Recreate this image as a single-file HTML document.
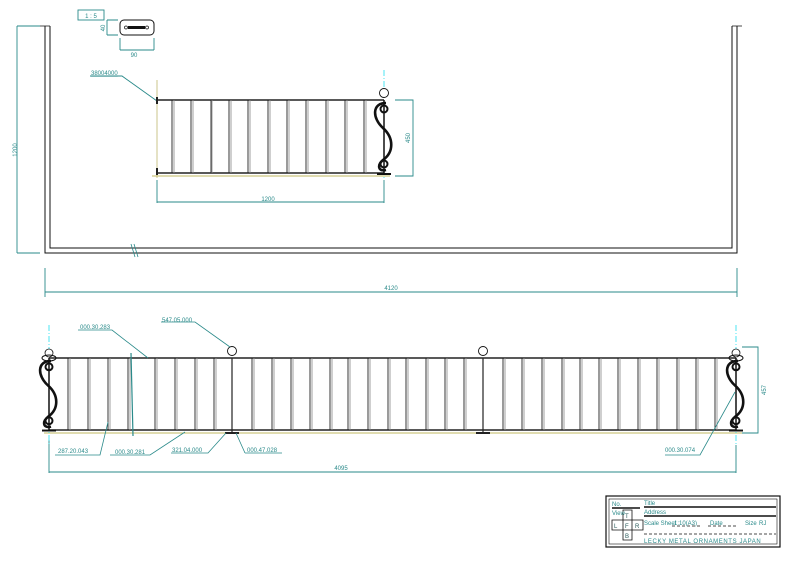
<!DOCTYPE html>
<html><head><meta charset="utf-8"><style>
html,body{margin:0;padding:0;background:#fff;}
svg{display:block;}
text{font-family:"Liberation Sans",sans-serif;font-size:6px;fill:#2a8a8a;}
</style></head><body>
<svg width="794" height="561" viewBox="0 0 794 561" xmlns="http://www.w3.org/2000/svg">
<defs>
<g id="scroll" fill="none" stroke="#111">
<path d="M3,3 C-11,3 -11,18 0,28 C11,38 11,52 0,60 C-6,65 -5,72 3,70" stroke-width="2.6"/>
<circle cx="1" cy="9" r="3.5" stroke-width="2"/>
<circle cx="1" cy="64" r="3.5" stroke-width="2"/>
<line x1="1" y1="0" x2="1" y2="74" stroke-width="1.5"/>
<line x1="-6" y1="74" x2="8" y2="74" stroke-width="2"/>
</g>
</defs>

<!-- wall -->
<g fill="none" stroke="#111" stroke-width="1">
<path d="M45,26 V253 H737 V26"/>
<path d="M50,26 V248 H732 V26"/>
<path d="M40,26 H50 M732,26 H742" stroke-width="0.8"/>
</g>
<line x1="131" y1="244" x2="135" y2="257" stroke="#2a8a8a" stroke-width="0.8"/>
<line x1="134" y1="244" x2="138" y2="257" stroke="#2a8a8a" stroke-width="0.8"/>

<!-- dims teal -->
<g stroke="#2a8a8a" stroke-width="0.9" fill="none">
<path d="M17,26 V253 M17,26 H40 M17,253 H40"/>
<path d="M45,268 V297 M737,268 V297 M45,292 H737"/>
<rect x="78" y="10" width="26" height="10"/>
<path d="M107,20 V35 M107,20 H118 M107,35 H118"/>
<path d="M120,38 V50 M154,38 V50 M120,50 H154"/>
<path d="M157,180 V203 M384,180 V203 M157,202 H384"/>
<path d="M395,100 H413 V176 H395"/>
<path d="M90,76 H122 L157,101"/>
<path d="M742,347 H758 V433 H742"/>
<path d="M49,440 V473 M736,445 V473 M49,472 H736"/>
</g>
<text x="17" y="150" transform="rotate(-90 17 150)" text-anchor="middle" font-size="5">1200</text>
<text x="391" y="290" text-anchor="middle">4120</text>
<text x="91" y="18" text-anchor="middle" font-size="6">1 : 5</text>
<text x="105" y="28" transform="rotate(-90 105 28)" text-anchor="middle" font-size="5">40</text>
<text x="134" y="57" text-anchor="middle" font-size="5">90</text>
<text x="268" y="201" text-anchor="middle" font-size="5">1200</text>
<text x="410" y="138" transform="rotate(-90 410 138)" text-anchor="middle" font-size="5">450</text>
<text x="91" y="75" font-size="5" text-decoration="underline">38004000</text>
<text x="766" y="390" transform="rotate(-90 766 390)" text-anchor="middle" font-size="5">457</text>
<text x="341" y="470" text-anchor="middle" font-size="5">4095</text>

<!-- plate -->
<rect x="120" y="20" width="34" height="15" rx="4" fill="none" stroke="#111" stroke-width="1"/>
<rect x="128" y="26" width="17" height="3" fill="#111"/>
<circle cx="126" cy="27.5" r="1.5" fill="none" stroke="#111" stroke-width="0.7"/>
<circle cx="147" cy="27.5" r="1.5" fill="none" stroke="#111" stroke-width="0.7"/>

<!-- top railing -->
<line x1="157" y1="80" x2="157" y2="178" stroke="#b5ac5a" stroke-width="0.7"/>
<line x1="152" y1="176" x2="390" y2="176" stroke="#c2b860" stroke-width="1"/>
<line x1="384" y1="70" x2="384" y2="180" stroke="#22e0f0" stroke-width="0.8" stroke-dasharray="6,2,1,2"/>
<g stroke="#222">
<line x1="157" y1="100" x2="384" y2="100" stroke-width="1.6"/>
<line x1="157" y1="173" x2="384" y2="173" stroke-width="1.6"/>
<line x1="157" y1="97" x2="157" y2="104" stroke-width="2"/>
<line x1="157" y1="168" x2="157" y2="175" stroke-width="2"/>
<g stroke-width="0.9">
<path d="M172,100V173M191,100V173M211,100V173M229,100V173M248,100V173M268,100V173M287,100V173M306,100V173M326,100V173M345,100V173M364,100V173"/>
</g>
<g stroke="#888" stroke-width="0.8">
<path d="M174,100V173M193,100V173M212,100V173M231,100V173M250,100V173M270,100V173M289,100V173M308,100V173M328,100V173M347,100V173M366,100V173"/>
</g>
</g>
<circle cx="384" cy="93" r="4.5" fill="#fff" stroke="#111" stroke-width="0.9"/>
<use href="#scroll" transform="translate(383,100)"/>

<!-- bottom railing -->
<line x1="44" y1="433" x2="742" y2="433" stroke="#c2b860" stroke-width="1"/>
<line x1="49" y1="325" x2="49" y2="445" stroke="#22e0f0" stroke-width="0.8" stroke-dasharray="6,2,1,2"/>
<line x1="736" y1="325" x2="736" y2="445" stroke="#22e0f0" stroke-width="0.8" stroke-dasharray="6,2,1,2"/>
<g stroke="#222">
<line x1="49" y1="358" x2="736" y2="358" stroke-width="1.6"/>
<line x1="49" y1="430" x2="736" y2="430" stroke-width="1.6"/>
<g stroke-width="0.9">
<path d="M68,358V430M88,358V430M108,358V430M128,358V430M155,358V430M175,358V430M195,358V430M214,358V430M252,358V430M272,358V430M291,358V430M310,358V430M330,358V430M348,358V430M368,358V430M388,358V430M406,358V430M426,358V430M445,358V430M464,358V430M503,358V430M522,358V430M542,358V430M562,358V430M580,358V430M599,358V430M618,358V430M638,358V430M657,358V430M677,358V430M696,358V430M715,358V430"/>
</g>
<g stroke="#888" stroke-width="0.8">
<path d="M70,358V430M90,358V430M110,358V430M130,358V430M157,358V430M177,358V430M197,358V430M216,358V430M254,358V430M274,358V430M293,358V430M312,358V430M332,358V430M350,358V430M370,358V430M390,358V430M408,358V430M428,358V430M447,358V430M466,358V430M505,358V430M524,358V430M544,358V430M564,358V430M582,358V430M601,358V430M620,358V430M640,358V430M659,358V430M679,358V430M698,358V430M717,358V430"/>
</g>
<path d="M232,358V432M483,358V432" stroke-width="1.2"/>
<path d="M225,433H239M476,433H490" stroke-width="2"/>
</g>
<line x1="131" y1="353" x2="133" y2="436" stroke="#2a8a8a" stroke-width="1.2"/>
<circle cx="232" cy="351" r="4.5" fill="#fff" stroke="#111" stroke-width="0.9"/>
<circle cx="483" cy="351" r="4.5" fill="#fff" stroke="#111" stroke-width="0.9"/>
<circle cx="49" cy="353" r="4" fill="#fff" stroke="#111" stroke-width="0.8"/>
<circle cx="736" cy="353" r="4" fill="#fff" stroke="#111" stroke-width="0.8"/>
<ellipse cx="49" cy="358" rx="7" ry="3" fill="none" stroke="#111" stroke-width="1"/>
<ellipse cx="736" cy="358" rx="7" ry="3" fill="none" stroke="#111" stroke-width="1"/>
<use href="#scroll" transform="translate(48,358) scale(1,0.98)"/>
<use href="#scroll" transform="translate(735,358) scale(1,0.98)"/>

<!-- leaders -->
<g stroke="#2a8a8a" stroke-width="0.8" fill="none">
<path d="M78,330 H112 L148,358"/>
<path d="M161,322 H195 L230,347"/>
<path d="M55,455 H100 L108,422"/>
<path d="M110,455 H150 L185,432"/>
<path d="M171,453 H208 L226,433"/>
<path d="M245,453 H282 M245,453 L236,433"/>
<path d="M665,455 H700 L735,392"/>
</g>
<text x="80" y="329" font-size="5">000.30.283</text>
<text x="162" y="322" font-size="5">547.05.000</text>
<text x="58" y="453" font-size="5">287.20.043</text>
<text x="115" y="454" font-size="5">000.30.281</text>
<text x="172" y="452" font-size="5">321.04.000</text>
<text x="247" y="452" font-size="5">000.47.028</text>
<text x="665" y="452" font-size="5">000.30.074</text>

<!-- title block -->
<g fill="none" stroke="#111">
<rect x="606" y="496" width="174" height="51" stroke-width="1.2"/>
<rect x="609" y="499" width="168" height="45" stroke-width="0.6"/>
<path d="M612,508H640 M644,507H776 M644,516H776" stroke-width="1.4"/>
<path d="M623,510H632V540H623Z M612,520H643V530H612Z" stroke-width="0.8"/>
<path d="M672,526H700 M708,526H736 M644,534H776" stroke-width="0.7" stroke-dasharray="3,2"/>
</g>
<g font-size="4" style="fill:#2a8a8a">
<text x="612" y="506" font-size="3">No.</text>
<text x="644" y="505" font-size="3">Title</text>
<text x="644" y="514" font-size="3">Address</text>
<text x="612" y="515" font-size="3">View</text>
<text x="644" y="525" font-size="3">Scale Sheet</text>
<text x="710" y="525" font-size="3">Date</text>
<text x="745" y="525" font-size="3">Size</text>
</g>
<text x="625" y="518" font-size="7" style="fill:#2a5a5a">T</text>
<text x="614" y="528" font-size="7" style="fill:#2a5a5a">L</text>
<text x="625" y="528" font-size="7" style="fill:#2a5a5a">F</text>
<text x="635" y="528" font-size="7" style="fill:#2a5a5a">R</text>
<text x="625" y="538" font-size="7" style="fill:#2a5a5a">B</text>
<text x="674" y="525" font-size="6.5">1:10(A3)</text>
<text x="759" y="525" font-size="6.5">RJ</text>
<text x="644" y="543" font-size="7.5" letter-spacing="0.6">LECKY METAL ORNAMENTS JAPAN</text>
</svg>
</body></html>
